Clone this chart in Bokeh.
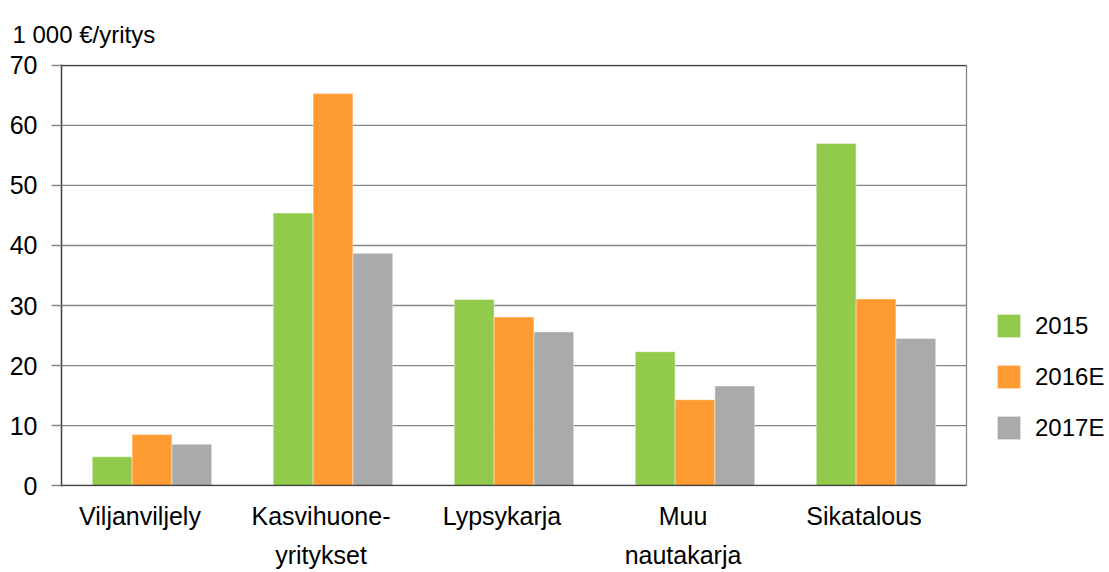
import numpy as np
from bokeh.plotting import figure
from bokeh.models import (ColumnDataSource, Legend, LegendItem, Range1d,
                          LinearAxis, FixedTicker)
from bokeh.embed import file_html
from bokeh.resources import INLINE

categories = ["Viljanviljely", "Kasvihuone-\nyritykset", "Lypsykarja", "Muu\nnautakarja", "Sikatalous"]
years = ["2015", "2016E", "2017E"]
v2015 = [4.8, 45.4, 31.0, 22.3, 57.0]
v2016 = [8.5, 65.3, 28.1, 14.3, 31.1]
v2017 = [6.9, 38.7, 25.6, 16.6, 24.5]
y_ticks = [0, 10, 20, 30, 40, 50, 60, 70]
colors = ["#92CA4B", "#FF9B33", "#A9AAAC"]
y_label = "1 000 €/yritys"

FONT = "Liberation Sans"
FS = "25px"
GRID = "#868686"
DARK = "#404040"

n = len(categories)
idx = np.arange(n) + 1.0  # category slots 1..n

# geometry: plot box 905 px wide for the n categories, frame extended right to hold the legend
W_TOTAL, H_TOTAL = 1109, 572
B_LEFT, B_RIGHT, B_TOP, B_BOTTOM = 61, 0, 64, 86
frame_w = W_TOTAL - B_LEFT - B_RIGHT
px_per_cat = 905 / n
x_end = 0.5 + frame_w / px_per_cat
ypad = 0.15

p = figure(x_range=Range1d(0.5, x_end), y_range=Range1d(y_ticks[0] - ypad, y_ticks[-1] + ypad),
           width=W_TOTAL, height=H_TOTAL, output_backend="svg", toolbar_location=None,
           min_border_left=B_LEFT, min_border_right=B_RIGHT,
           min_border_top=B_TOP, min_border_bottom=B_BOTTOM)
p.outline_line_color = None
p.xgrid.grid_line_color = None
p.ygrid.grid_line_color = None

# horizontal gridlines and box limited to the category area
inner = y_ticks[1:-1]
p.segment(x0=[0.5] * len(inner), x1=[n + 0.5] * len(inner), y0=inner, y1=inner,
          line_color=GRID, line_width=1.3)
p.segment(x0=[n + 0.5], x1=[n + 0.5], y0=[y_ticks[0]], y1=[y_ticks[-1]],
          line_color=GRID, line_width=1.3)

bw = 0.22
renderers = []
for i, (vals, c) in enumerate(zip([v2015, v2016, v2017], colors)):
    s = ColumnDataSource(dict(x=idx + (i - 1) * bw, top=vals))
    r = p.vbar(x="x", top="top", width=bw, source=s,
               fill_color=c, line_color="#FFFFFF", line_width=0.6, line_alpha=0.7)
    renderers.append(r)

p.segment(x0=[0.5, 0.5], x1=[n + 0.5, n + 0.5], y0=[y_ticks[0], y_ticks[-1]],
          y1=[y_ticks[0], y_ticks[-1]], line_color=DARK, line_width=1.5)

yax = p.yaxis[0]
yax.ticker = FixedTicker(ticks=y_ticks)
yax.axis_line_color = DARK
yax.axis_line_width = 1.5
yax.major_tick_in = 0
yax.major_tick_out = 10
yax.major_tick_line_color = GRID
yax.major_tick_line_width = 1.3
yax.minor_tick_line_color = None
yax.major_label_standoff = 14
yax.major_label_text_font = FONT
yax.major_label_text_font_size = FS
yax.major_label_text_color = "#000000"

xax = p.xaxis[0]
xax.axis_line_color = None
xax.major_tick_line_color = None
xax.minor_tick_line_color = None
xax.major_label_text_font_size = "0px"
xax.major_label_standoff = 0

# category labels, drawn slightly left of the bar groups as in the original
shift = 12 / px_per_cat
p.extra_x_ranges = {"lab": Range1d(start=0.5 + shift, end=x_end + shift)}
lab_ax = LinearAxis(x_range_name="lab",
                    ticker=FixedTicker(ticks=list(range(1, n + 1))),
                    major_label_overrides={i + 1: c for i, c in enumerate(categories)},
                    axis_line_color=None, major_tick_line_color=None, minor_tick_line_color=None,
                    major_label_standoff=3, major_label_text_font=FONT,
                    major_label_text_font_size=FS, major_label_text_color="#000000",
                    major_label_text_line_height=1.4)
p.add_layout(lab_ax, "below")

p.title.text = y_label
p.title.align = "left"
p.title.vertical_align = "bottom"
p.title.offset = -49
p.title.standoff = 34
p.title.text_font = FONT
p.title.text_font_size = "24px"
p.title.text_font_style = "normal"
p.title.text_color = "#000000"

legend = Legend(items=[LegendItem(label=y, renderers=[r]) for y, r in zip(years, renderers)],
                location=(933, 44), orientation="vertical",
                glyph_width=29, glyph_height=29, label_height=29, label_standoff=12,
                spacing=22, padding=0, margin=0, border_line_color=None,
                background_fill_alpha=0, label_text_font=FONT, label_text_font_size="24px",
                label_text_color="#000000", label_text_baseline="middle")
p.add_layout(legend, "center")

open("out.html", "w").write(file_html(p, INLINE))
